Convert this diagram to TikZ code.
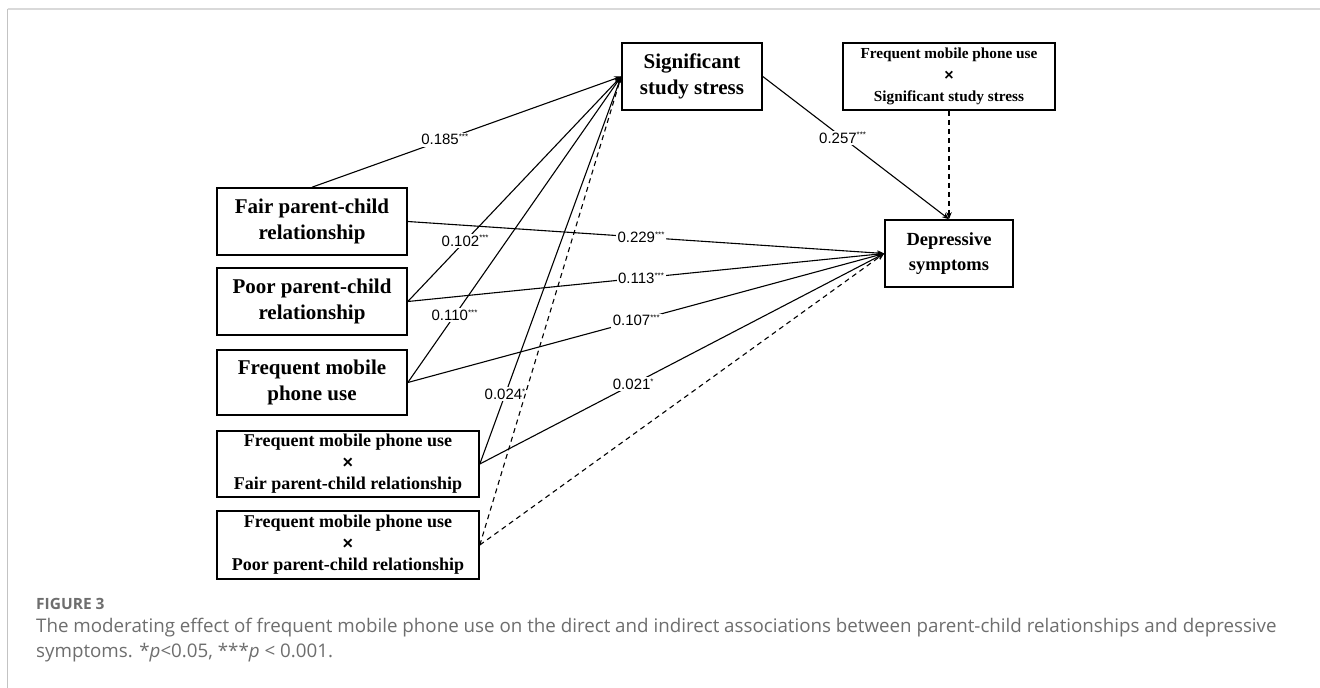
\documentclass[tikz,border=0pt]{standalone}
\usepackage{fontspec}
\usetikzlibrary{arrows.meta}
\setmainfont{Liberation Serif}
\newfontfamily\labfont{Liberation Sans}
\newfontfamily\capfont{Open Sans}
\definecolor{capgray}{HTML}{6E6E6E}
\definecolor{framegray}{HTML}{D9D9D9}
\tikzset{
  box/.style={draw, line width=1.6pt, align=center, inner sep=0pt,
    font=\bfseries\fontsize{21}{25.5}\selectfont},
  ibox/.style={draw, line width=1.6pt, align=center, inner sep=0pt,
    font=\bfseries\fontsize{18}{21.5}\selectfont},
  conn/.style={line width=1.1pt, -{Stealth[length=7pt,width=5.5pt]}},
  dconn/.style={conn, dash pattern=on 5pt off 4pt},
  coef/.style={fill=white, inner sep=1.5pt, font=\labfont\fontsize{15}{17}\selectfont},
  captxt/.style={anchor=west, inner sep=0pt, text=capgray, font=\capfont\fontsize{18.75}{22}\selectfont}
}
\newcommand{\sig}[1]{\textsuperscript{\fontsize{8}{8}\selectfont #1}}
\newcommand{\xx}{{\labfont\bfseries\fontsize{18}{18}\selectfont ×}}
\begin{document}
\begin{tikzpicture}[x=1pt,y=-1pt]
\useasboundingbox (0,0) rectangle (1320,688);
\fill[white] (0,0) rectangle (1320,688);
% frame
\draw[framegray, line width=2pt] (7.5,8.5) -- (1320,8.5);
\draw[framegray!90!black, line width=1.5pt] (7.5,8.5) -- (7.5,688);
% nodes
\node[box, minimum width=140pt, minimum height=67pt] (sss) at (692,76.5) {Significant\\study stress};
\node[ibox, font=\bfseries\fontsize{15.3}{21.5}\selectfont, minimum width=212pt, minimum height=67pt] (int3) at (949,76.5) {Frequent mobile phone use\\{\labfont\bfseries\fontsize{16}{16}\selectfont ×}\\Significant study stress};
\node[box, font=\bfseries\fontsize{18.5}{25}\selectfont, minimum width=128pt, minimum height=67pt] (dep) at (949,253.5) {Depressive\\symptoms};
\node[box, minimum width=190pt, minimum height=67pt] (fair) at (312,221.5) {Fair parent-child\\relationship};
\node[box, minimum width=190pt, minimum height=67pt] (poor) at (312,301.5) {Poor parent-child\\relationship};
\node[box, minimum width=190pt, minimum height=65pt] (fmpu) at (312,382.5) {Frequent mobile\\phone use};
\node[ibox, minimum width=262pt, minimum height=66pt] (int1) at (348,464) {Frequent mobile phone use\\\xx\\Fair parent-child relationship};
\node[ibox, minimum width=262pt, minimum height=68pt] (int2) at (348,545) {Frequent mobile phone use\\\xx\\Poor parent-child relationship};
% paths to study stress
\draw[conn] (fair.north) -- node[coef, pos=0.43] {0.185\sig{***}} (sss.west);
\draw[conn] (poor.east) -- node[coef, pos=0.27] {0.102\sig{***}} (sss.west);
\draw[conn] (fmpu.east) -- node[coef, pos=0.22] {0.110\sig{***}} (sss.west);
\draw[conn] (int1.east) -- node[coef, pos=0.18] {0.024\sig{*}} (sss.west);
\draw[dconn] (int2.east) -- (sss.west);
% paths to depressive symptoms
\draw[conn] (fair.east) -- node[coef, pos=0.49] {0.229\sig{***}} (dep.west);
\draw[conn] (poor.east) -- node[coef, pos=0.49] {0.113\sig{***}} (dep.west);
\draw[conn] (fmpu.east) -- node[coef, pos=0.48] {0.107\sig{***}} (dep.west);
\draw[conn] (int1.east) -- node[coef, pos=0.38] {0.021\sig{*}} (dep.west);
\draw[dconn] (int2.east) -- (dep.west);
\draw[conn] (sss.east) -- node[coef, pos=0.43] {0.257\sig{***}} (dep.north);
\draw[dconn] (int3.south) -- (dep.north);
% caption
\node[captxt, font=\capfont\bfseries\fontsize{15.5}{18}\selectfont] (figlab) at (36,604) {FIGURE 3};
\node[captxt] (cap1) at (36,628) {The moderating effect of frequent mobile phone use on the direct and indirect associations between parent-child relationships and depressive};
\node[captxt] (cap2) at (36,653) {symptoms. *\textit{p}<0.05, ***\textit{p} < 0.001.};
\end{tikzpicture}
\end{document}
